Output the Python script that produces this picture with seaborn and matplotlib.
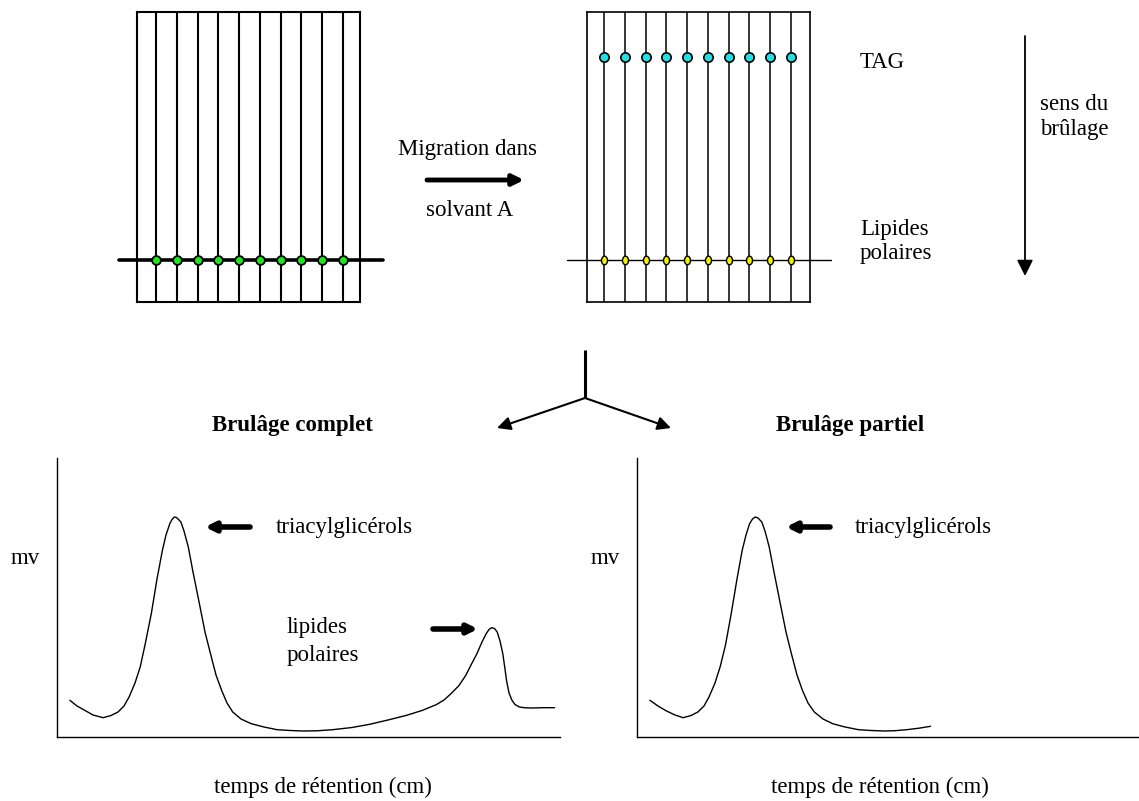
import numpy as np
import matplotlib
matplotlib.use("Agg")
import matplotlib.pyplot as plt
from matplotlib.path import Path
import seaborn as sns
import pandas as pd

# plate lanes (10 samples) and spot heights (distance from plate bottom)
lanes = [1, 2, 3, 4, 5, 6, 7, 8, 9, 10]
origin_height = 42
tag_height = 245

# chromatogram, complete burning (retention, signal)
full_t = [12.9, 20, 27.7, 36, 46.2, 54, 61.0, 67, 72.1, 78, 83.2, 88, 94.3, 100, 105.4,
          109, 112.8, 115, 117.3, 119.5, 121.5, 123.9, 127, 131.3, 136, 142.4, 148, 153.5,
          159, 164.6, 170, 175.7, 184, 194.2, 207, 220.1, 233, 246.0, 260, 275.6, 295,
          312.6, 331, 349.6, 365, 379.2, 387, 394.0, 402, 408.8, 414, 419.9, 425, 429.2,
          432, 434.7, 437.5, 440.2, 443, 445.8, 448, 449.5, 452, 455.0, 458, 462.4, 468,
          475.4, 486.5, 497.6]
full_mv = [36.7, 31, 26.7, 22, 19.3, 21.5, 25.0, 31, 40.0, 54, 70.0, 92, 123.3, 158, 186.7,
           202, 213.3, 217.5, 220.0, 219.5, 217.5, 215.0, 206, 190.0, 165, 133.3, 105, 83.3,
           62, 46.7, 34, 25.0, 18, 13.3, 10, 7.3, 6.5, 6.0, 6.2, 7.3, 9.5,
           12.7, 17, 21.7, 26.5, 32.3, 37, 43.3, 51.5, 61.7, 72, 83.3, 95, 103.3,
           107.5, 109.3, 108.5, 105.0, 96, 83.3, 68, 56.7, 44, 36.7, 32.5, 30.0, 29.2,
           29.0, 29.3, 29.3]

# chromatogram, partial burning
part_t = [12.9, 21, 29.5, 38, 46.2, 54, 60.9, 67, 72.0, 78, 83.1, 88.5, 94.2, 100, 105.2,
          109, 112.6, 115.5, 118.2, 121, 124.8, 128, 132.2, 137, 143.3, 149, 154.4, 160,
          165.4, 171, 177.3, 186, 195.7, 208, 221.6, 234, 247.4, 258, 269.6, 282, 293.6]
part_mv = [36.7, 31, 26.0, 22, 19.3, 21.5, 25.0, 31, 40.0, 54, 70.0, 92, 123.3, 158, 186.7,
           202, 213.3, 218, 220.0, 219, 215.0, 206, 190.0, 165, 133.3, 105, 83.3, 62,
           46.7, 34, 25.0, 18, 13.3, 10, 7.3, 6.5, 6.0, 6.3, 7.3, 8.8, 10.7]

sns.set_theme(style="white")
plt.rcParams['font.family'] = ['Liberation Serif', 'DejaVu Serif']
plt.rcParams['text.color'] = 'black'
FS = 16.5

W, H = 1139, 801
fig = plt.figure(figsize=(W / 100, H / 100), dpi=100)


def px_axes(x0, y0, x1, y1):
    ax = fig.add_axes([x0 / W, 1 - y1 / H, (x1 - x0) / W, (y1 - y0) / H])
    ax.set_facecolor('none')
    return ax


# overlay for text and arrows, pixel coords
ov = px_axes(0, 0, W, H)
ov.set_xlim(0, W)
ov.set_ylim(H, 0)
ov.axis('off')


def arrow(x0, y0, x1, y1, lw, ms):
    ov.annotate('', xy=(x1, y1), xytext=(x0, y0),
                arrowprops=dict(arrowstyle='-|>', lw=lw, color='black',
                                mutation_scale=ms, shrinkA=0, shrinkB=0))


# --- plates
def plate(x0, lw, line_lw, xlim, base_lw):
    ax = px_axes(x0, 12, x0 + 223, 302)
    ax.set_xlim(*xlim)
    ax.set_ylim(0, 290)
    ax.vlines(lanes, 0, 290, color='black', lw=line_lw)
    for s in ax.spines.values():
        s.set_color('black')
        s.set_linewidth(lw)
    ax.set_xticks([])
    ax.set_yticks([])
    ax.plot([-0.78, 11.92], [origin_height, origin_height], color='black',
            lw=base_lw, clip_on=False)
    return ax


left_plate = plate(137, 1.5, 1.5, (0.0856, 10.817), 2.6)
df_start = pd.DataFrame({'lane': lanes, 'h': [origin_height] * 10})
sns.scatterplot(data=df_start, x='lane', y='h', ax=left_plate, color='#1ee61e',
                edgecolor='black', linewidth=1.3, s=40, zorder=5, clip_on=False)

right_plate = plate(587, 1.2, 1.1, (0.182, 10.913), 1.0)
df_tag = pd.DataFrame({'lane': lanes, 'h': [tag_height] * 10})
sns.scatterplot(data=df_tag, x='lane', y='h', ax=right_plate, color='#22e0e0',
                edgecolor='black', linewidth=1.2, s=45, zorder=5)
circ = Path.unit_circle()
ell = Path(circ.vertices * np.array([0.7, 1.0]), circ.codes)
sns.scatterplot(data=df_start, x='lane', y='h', ax=right_plate, color='#f2f200',
                edgecolor='black', linewidth=1.0, s=38, marker=ell, zorder=5)

# --- top texts / arrows
ov.text(467, 155, 'Migration dans', fontsize=FS, ha='center', va='baseline')
arrow(427, 180, 524, 180, 3.5, 16)
ov.text(470, 216, 'solvant A', fontsize=FS, ha='center', va='baseline')
ov.text(860, 62, 'TAG', fontsize=FS, ha='left', va='center')
ov.text(860, 229, 'Lipides', fontsize=FS, ha='left', va='center')
ov.text(860, 253, 'polaires', fontsize=FS, ha='left', va='center')
arrow(1025, 36, 1025, 276, 1.3, 24)
ov.text(1040, 104, 'sens du', fontsize=FS, ha='left', va='center')
ov.text(1040, 129, 'brûlage', fontsize=FS, ha='left', va='center')

# split arrows
ov.plot([585, 585], [350, 398], color='black', lw=2.2, solid_capstyle='butt')
arrow(585, 398, 497, 428, 1.5, 20)
arrow(585, 398, 671, 428, 1.5, 20)
ov.text(292, 425, 'Brulâge complet', fontsize=FS, fontweight='bold', ha='center', va='center')
ov.text(850, 425, 'Brulâge partiel', fontsize=FS, fontweight='bold', ha='center', va='center')


# --- chromatograms
def chrom(x0, x1, t, mv):
    ax = px_axes(x0, 458, x1, 737)
    ax.set_xlim(0, x1 - x0)
    ax.set_ylim(0, 279)
    sns.lineplot(x=t, y=mv, ax=ax, color='black', lw=1.0, sort=False, estimator=None)
    sns.despine(ax=ax)
    for side in ('left', 'bottom'):
        ax.spines[side].set_color('black')
        ax.spines[side].set_linewidth(1.0)
    ax.set_xticks([])
    ax.set_yticks([])
    return ax


chrom(57, 560, full_t, full_mv)
chrom(637, 1138, part_t, part_mv)

ov.text(11, 559, 'mv', fontsize=FS, ha='left', va='center')
ov.text(591, 559, 'mv', fontsize=FS, ha='left', va='center')
ov.text(276, 527, 'triacylglicérols', fontsize=FS, ha='left', va='center')
ov.text(855, 527, 'triacylglicérols', fontsize=FS, ha='left', va='center')
arrow(250, 527, 205, 527, 4, 14)
arrow(830, 527, 786, 527, 4, 14)
ov.text(287, 628, 'lipides', fontsize=FS, ha='left', va='center')
ov.text(287, 655, 'polaires', fontsize=FS, ha='left', va='center')
arrow(433, 629, 478, 629, 4, 14)

ov.text(323, 787, 'temps de rétention (cm)', fontsize=FS, ha='center', va='center')
ov.text(880, 787, 'temps de rétention (cm)', fontsize=FS, ha='center', va='center')

fig.savefig('out.png', dpi=100)
